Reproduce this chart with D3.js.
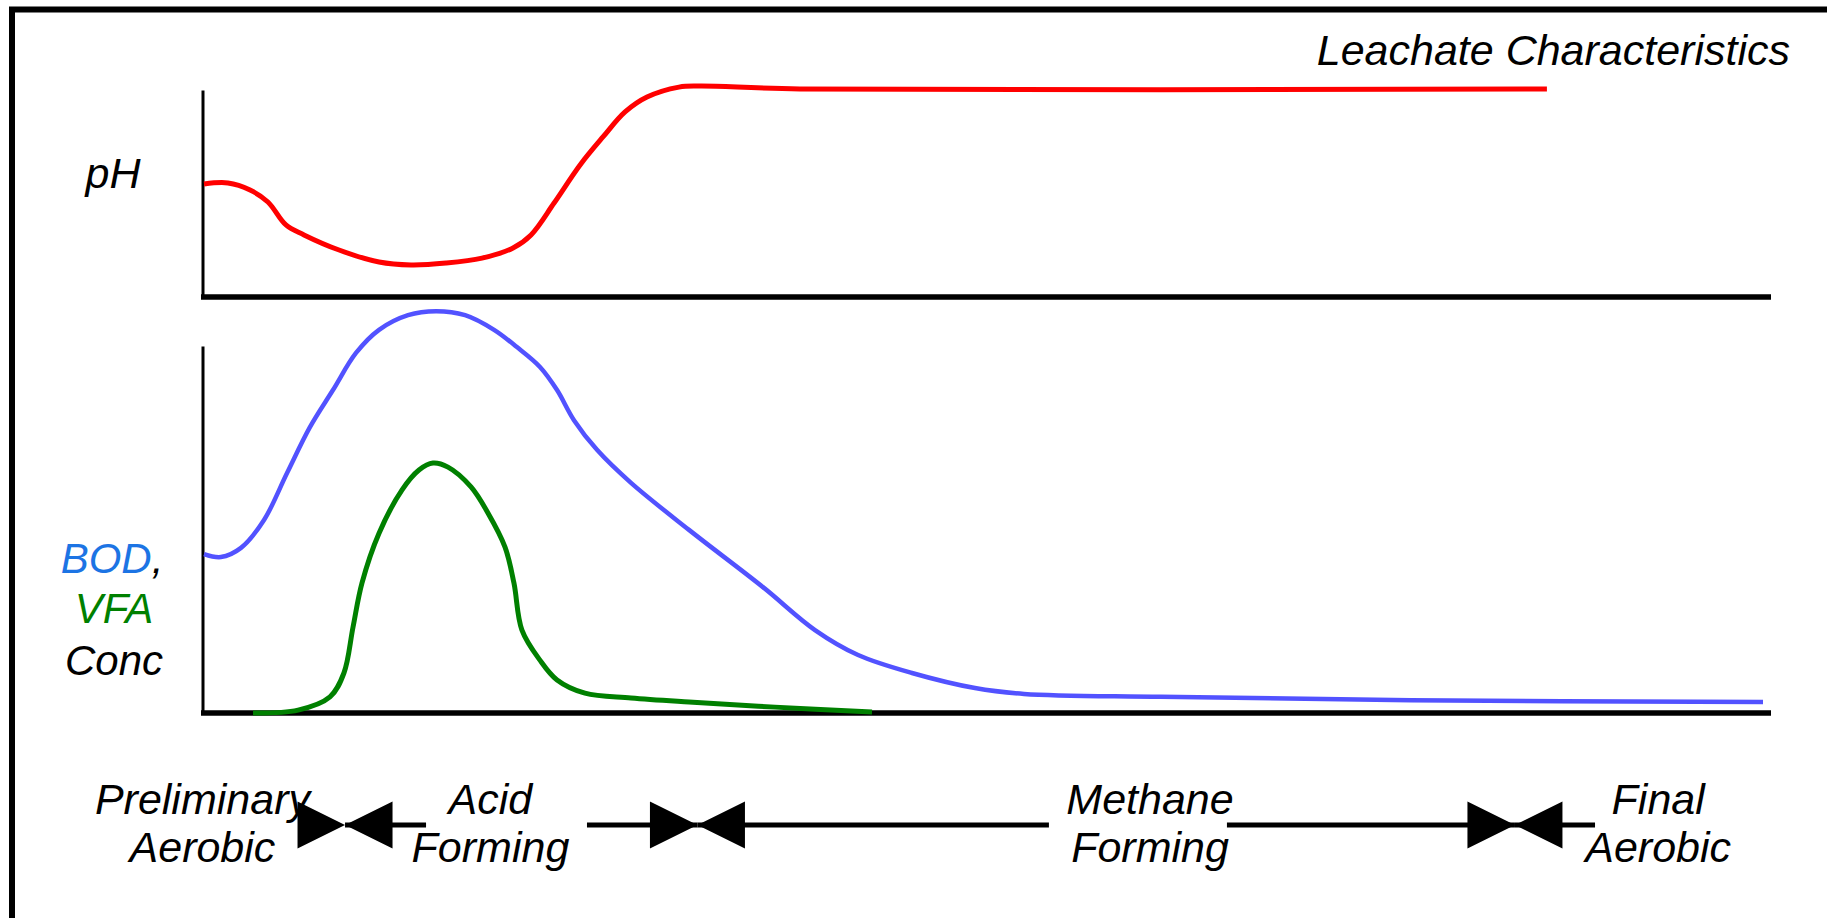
<!DOCTYPE html>
<html>
<head>
<meta charset="utf-8">
<script src="https://cdn.jsdelivr.net/npm/d3@7"></script>
<style>
  html, body { margin: 0; padding: 0; background: #fff; overflow: hidden; }
  text { font-family: "Liberation Sans", Arial, Helvetica, sans-serif; font-style: italic; }
</style>
</head>
<body>
<svg id="chart" width="1827" height="918"></svg>
<script>
// ---------- DATA (time in arbitrary units 0..100, values in arbitrary units 0..10) ----------
const phTime   = [0, 1.53, 2.94, 4.08, 5.23, 6.38, 8.62, 11.17, 13.21, 15.44, 17.74, 19.72, 20.87, 22.34, 24.0, 25.46, 26.87, 28.27, 30.31, 31.65, 38.03, 85.7];
const phValue  = [5.46, 5.51, 5.17, 4.59, 3.48, 3.0, 2.27, 1.69, 1.55, 1.64, 1.88, 2.37, 3.0, 4.54, 6.38, 7.73, 8.94, 9.66, 10.14, 10.19, 10.05, 10.05];

const bodTime  = [0, 1.08, 2.36, 3.83, 5.30, 6.76, 8.23, 9.70, 11.17, 13.02, 14.81, 16.66, 18.51, 19.97, 21.44, 22.53, 23.61, 25.08, 27.25, 30.95, 35.67, 38.99, 41.74, 45.18, 49.2, 52.33, 61.07, 77.03, 99.49];
const bodValue = [4.33, 4.25, 4.50, 5.26, 6.54, 7.79, 8.80, 9.81, 10.44, 10.84, 10.95, 10.84, 10.44, 9.97, 9.43, 8.80, 7.98, 7.17, 6.27, 4.99, 3.43, 2.26, 1.58, 1.09, 0.68, 0.52, 0.44, 0.35, 0.30];

const vfaTime  = [3.13, 6.0, 8.04, 8.93, 9.51, 10.08, 11.17, 12.64, 13.72, 14.61, 15.57, 17.04, 18.12, 19.21, 19.78, 20.29, 21.44, 22.53, 24.31, 27.25, 30.95, 36.44, 42.63];
const vfaValue = [0, 0.08, 0.44, 1.09, 2.34, 3.54, 4.90, 6.08, 6.62, 6.81, 6.70, 6.16, 5.45, 4.52, 3.54, 2.26, 1.44, 0.90, 0.54, 0.41, 0.30, 0.16, 0.03];

const phaseLine1   = ["Preliminary", "Acid", "Methane", "Final"];
const phaseLine2   = ["Aerobic", "Forming", "Forming", "Aerobic"];
const phaseCenters = [-0.1, 18.28, 60.37, 92.8];
const phaseBounds  = [9.0, 31.49, 83.66];
const arrowSegments = [[9.0, 14.17], [24.44, 31.49], [31.49, 53.92], [65.28, 83.66], [83.66, 88.77]];

const title = "Leachate Characteristics";
const phLabel = "pH";

// ---------- LAYOUT ----------
const svg = d3.select("#chart");

// outer frame (extends past right and bottom edges)
svg.append("rect")
  .attr("x", 12).attr("y", 9.5)
  .attr("width", 2000).attr("height", 1200)
  .attr("fill", "none").attr("stroke", "#000").attr("stroke-width", 6);

const x = d3.scaleLinear().domain([0, 100]).range([204, 1771]);
const yPH = d3.scaleLinear().domain([0, 10]).range([297, 90]);
const yC  = d3.scaleLinear().domain([0, 10]).range([713, 346]);

function drawAxes(yScale) {
  const xb = svg.append("g")
    .attr("transform", `translate(0,${yScale.range()[0]})`)
    .call(d3.axisBottom(x).tickValues([]).tickSizeOuter(0));
  xb.select(".domain").attr("stroke", "#000").attr("stroke-width", 5.5)
    .attr("d", `M${x.range()[0] - 3},0H${x.range()[1]}`);
  const yl = svg.append("g")
    .attr("transform", `translate(${x.range()[0] - 1.5},0)`)
    .call(d3.axisLeft(yScale).tickValues([]).tickSizeOuter(0));
  yl.select(".domain").attr("stroke", "#000").attr("stroke-width", 3);
}
drawAxes(yPH);
drawAxes(yC);

function drawSeries(times, values, yScale, color, width) {
  const data = times.map((t, i) => [t, values[i]]);
  svg.append("path")
    .datum(data)
    .attr("fill", "none")
    .attr("stroke", color)
    .attr("stroke-width", width)
    .attr("stroke-linecap", "butt")
    .attr("stroke-linejoin", "round")
    .attr("d", d3.line().x(d => x(d[0])).y(d => yScale(d[1])).curve(d3.curveCatmullRom.alpha(0.5)));
}
drawSeries(phTime, phValue, yPH, "#ff0000", 5);
drawSeries(bodTime, bodValue, yC, "#5252ff", 4.5);
drawSeries(vfaTime, vfaValue, yC, "#008000", 5);

// title
svg.append("text")
  .attr("x", 1790).attr("y", 65)
  .attr("text-anchor", "end")
  .attr("font-size", 43)
  .text(title);

// pH label
svg.append("text")
  .attr("x", 113).attr("y", 188)
  .attr("text-anchor", "middle")
  .attr("font-size", 43)
  .text(phLabel);

// BOD, VFA Conc label
const concLabel = svg.append("text")
  .attr("text-anchor", "middle")
  .attr("font-size", 42);
const l1 = concLabel.append("tspan").attr("x", 112).attr("y", 573);
l1.append("tspan").attr("fill", "#1c74e4").text("BOD");
l1.append("tspan").attr("fill", "#000").text(",");
concLabel.append("tspan").attr("x", 114).attr("y", 623).attr("fill", "#008000").text("VFA");
concLabel.append("tspan").attr("x", 114).attr("y", 675).attr("fill", "#000").text("Conc");

// phase arrows
const arrowY = 825;
svg.selectAll("line.seg")
  .data(arrowSegments)
  .join("line")
  .attr("class", "seg")
  .attr("x1", d => x(d[0])).attr("x2", d => x(d[1]))
  .attr("y1", arrowY).attr("y2", arrowY)
  .attr("stroke", "#000").attr("stroke-width", 5);

const triW = 47.5, triH = 23.5;
svg.selectAll("path.bow")
  .data(phaseBounds)
  .join("path")
  .attr("class", "bow")
  .attr("fill", "#000")
  .attr("d", d => {
    const cx = x(d);
    return `M${cx},${arrowY}L${cx - triW},${arrowY - triH}L${cx - triW},${arrowY + triH}Z` +
           `M${cx},${arrowY}L${cx + triW},${arrowY - triH}L${cx + triW},${arrowY + triH}Z`;
  });

// phase labels
const labels = svg.selectAll("text.phase")
  .data(phaseCenters)
  .join("text")
  .attr("class", "phase")
  .attr("text-anchor", "middle")
  .attr("font-size", 43);
labels.append("tspan").attr("x", d => x(d)).attr("y", 814).text((d, i) => phaseLine1[i]);
labels.append("tspan").attr("x", d => x(d)).attr("y", 862).text((d, i) => phaseLine2[i]);
</script>
</body>
</html>
